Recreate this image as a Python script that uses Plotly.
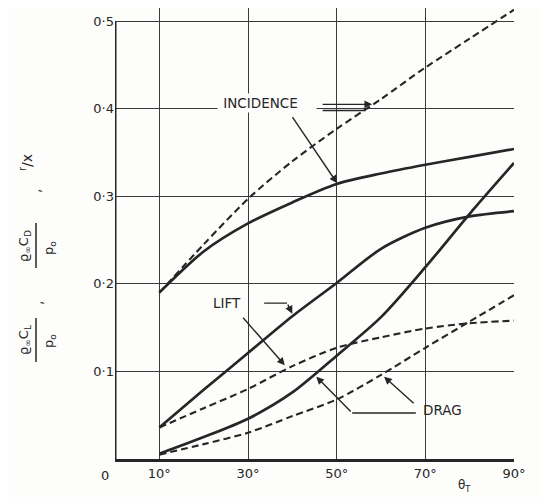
import plotly.graph_objects as go

# ---- data ----
theta = [10, 20, 30, 40, 50, 60, 70, 80, 90]

incidence_solid = [0.190, 0.237, 0.269, 0.293, 0.314, 0.326, 0.336, 0.345, 0.354]
incidence_dashed = [0.190, 0.245, 0.297, 0.340, 0.377, 0.411, 0.447, 0.480, 0.513]
lift_solid = [0.036, 0.079, 0.121, 0.163, 0.201, 0.240, 0.264, 0.277, 0.283]
lift_dashed = [0.036, 0.058, 0.080, 0.106, 0.127, 0.139, 0.149, 0.155, 0.158]
drag_solid = [0.006, 0.025, 0.046, 0.076, 0.118, 0.162, 0.219, 0.280, 0.338]
drag_dashed = [0.005, 0.017, 0.030, 0.049, 0.068, 0.096, 0.127, 0.157, 0.187]

x_tickvals = [10, 30, 50, 70, 90]
x_ticktext = ["10°", "30°", "50°", "70°", "90°"]
y_tickvals = [0.1, 0.2, 0.3, 0.4, 0.5]
y_ticktext = ["0·1", "0·2", "0·3", "0·4", "0·5"]

INK = "#262626"
FONT = "DejaVu Sans"
BG = "#fdfdfb"

X_MAX = 90
Y_TOP = 0.5      # top frame line (grid at 0.5)
Y_VIEW = 0.515   # a little head-room: the incidence curve runs past the frame

fig = go.Figure()

series = [
    (incidence_dashed, "dash"),
    (incidence_solid, "solid"),
    (lift_dashed, "dash"),
    (lift_solid, "solid"),
    (drag_dashed, "dash"),
    (drag_solid, "solid"),
]
for vals, style in series:
    fig.add_trace(go.Scatter(
        x=theta, y=vals, mode="lines",
        line=dict(color=INK, width=2.7 if style == "solid" else 2.1,
                  dash="solid" if style == "solid" else "7px,4px",
                  shape="spline", smoothing=0.8),
        showlegend=False, hoverinfo="skip",
    ))

annots = []

def label(text, x, y, size=13.5, bg=None):
    d = dict(x=x, y=y, xref="x", yref="y", text=text, showarrow=False,
             xanchor="center", yanchor="middle", borderpad=1,
             font=dict(family=FONT, size=size, color=INK))
    if bg:
        d["bgcolor"] = bg
    annots.append(d)

def arrow(x, y, ax, ay, head=2):
    annots.append(dict(x=x, y=y, ax=ax, ay=ay, xref="x", yref="y",
                       axref="x", ayref="y", text="", showarrow=True,
                       arrowhead=head if head else 0, arrowsize=1.1,
                       arrowwidth=1.4, arrowcolor=INK, standoff=0))

# INCIDENCE (its box breaks the 0·4 grid line)
label("&nbsp;INCIDENCE&nbsp;&nbsp;&nbsp;&nbsp;", 34.2, 0.406, bg=BG)
arrow(58.0, 0.405, 46.5, 0.405)
arrow(56.5, 0.398, 46.5, 0.398, head=0)
arrow(50.1, 0.315, 39.8, 0.392)
# LIFT
label("LIFT", 25.3, 0.178)
arrow(38.8, 0.178, 33.3, 0.178, head=0)
arrow(40.0, 0.166, 38.8, 0.178)
arrow(38.3, 0.107, 28.6, 0.163)
# DRAG
label("DRAG", 73.8, 0.056)
arrow(53.5, 0.0525, 68.2, 0.0525, head=0)
arrow(45.4, 0.094, 53.5, 0.0525)
arrow(60.7, 0.094, 67.7, 0.062)

# axis-side texts placed by pixel position (plot area spans px 115..514, 8..459)
PX_L, PX_R, PX_T, PX_B = 115, 514, 8, 459

def ptext(text, px, py, size=13, angle=0):
    annots.append(dict(x=(px - PX_L) / (PX_R - PX_L), y=(PX_B - py) / (PX_B - PX_T),
                       xref="paper", yref="paper", text=text, showarrow=False,
                       xanchor="center", yanchor="middle",
                       textangle=angle, font=dict(family=FONT, size=size, color=INK)))

ptext("0", 105, 476, size=13)
ptext("θ<sub>T</sub>", 464, 486, size=12)
ptext("<sup>r</sup>/x", 26, 163, size=14, angle=-90)
ptext(",", 35, 191, size=14, angle=-90)
ptext("ϱ<sub>∞</sub>C<sub>D</sub>", 24, 246, size=13, angle=-90)
ptext("p<sub>o</sub>", 49, 248, size=13, angle=-90)
ptext(",", 37, 303, size=14, angle=-90)
ptext("ϱ<sub>∞</sub>C<sub>L</sub>", 24, 340, size=13, angle=-90)
ptext("p<sub>o</sub>", 50, 341, size=13, angle=-90)

shapes = []
# fraction bars of the axis title
for (y0, y1) in [(223, 268), (318, 362)]:
    xb = (36 - PX_L) / (PX_R - PX_L)
    shapes.append(dict(type="line", xref="paper", yref="paper",
                       x0=xb, x1=xb,
                       y0=(PX_B - y0) / (PX_B - PX_T), y1=(PX_B - y1) / (PX_B - PX_T),
                       line=dict(color=INK, width=1.5)))
# heavy left frame line (stops at the top frame)
shapes.append(dict(type="line", xref="x", yref="y", x0=0, x1=0, y0=0, y1=Y_TOP,
                   line=dict(color=INK, width=3)))

# page body has an 8px margin: figure starts at (8, 8)
fig.update_layout(
    width=542, height=489,
    margin=dict(l=107, r=36, t=0, b=38),
    paper_bgcolor=BG, plot_bgcolor=BG,
    annotations=annots, shapes=shapes,
    font=dict(family=FONT, color=INK),
)
fig.update_xaxes(range=[0, X_MAX], tickvals=x_tickvals, ticktext=x_ticktext,
                 tickfont=dict(size=13, family=FONT, color=INK),
                 showgrid=True, gridcolor="#3a3a3a", gridwidth=1.2,
                 showline=True, linecolor=INK, linewidth=3, mirror=False,
                 zeroline=False, ticks="", fixedrange=True)
fig.update_yaxes(range=[0, Y_VIEW], tickvals=y_tickvals, ticktext=y_ticktext,
                 tickfont=dict(size=13, family=FONT, color=INK),
                 showgrid=True, gridcolor="#3a3a3a", gridwidth=1.2,
                 showline=False, zeroline=False, ticks="", fixedrange=True)

fig.write_html("out.html")
